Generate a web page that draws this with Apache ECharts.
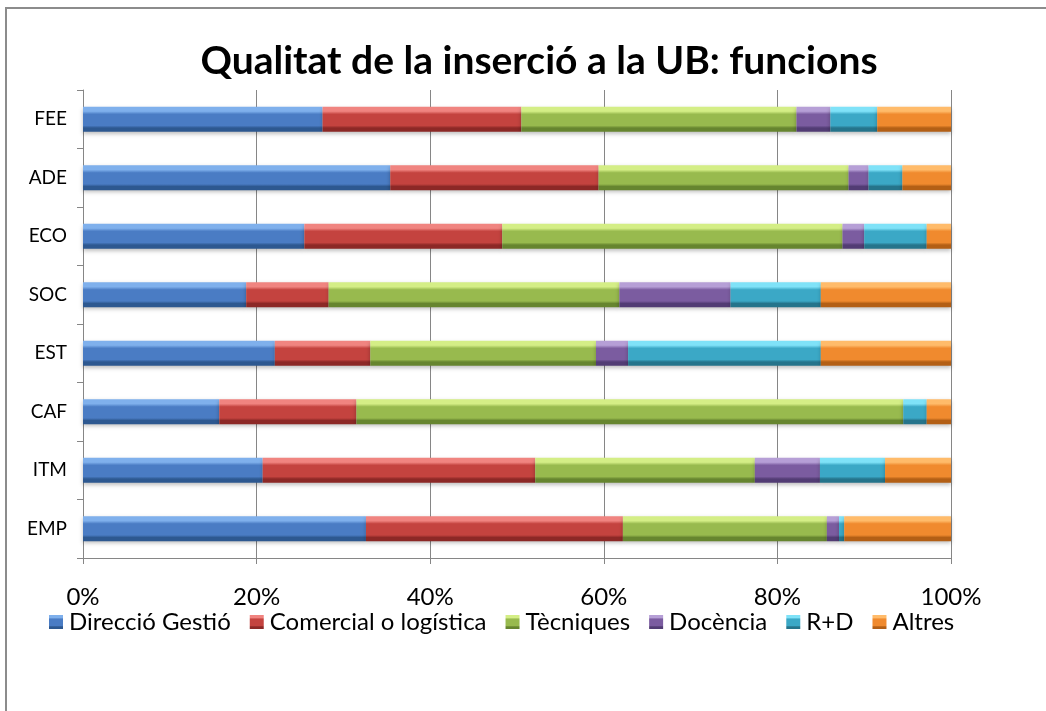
<!DOCTYPE html>
<html>
<head>
<meta charset="utf-8">
<script src="https://cdn.jsdelivr.net/npm/echarts@6/dist/echarts.min.js"></script>
<style>
  body { margin: 0; background: #fff; }
  #chart { width: 1046px; height: 711px; }
  #frame { position: absolute; left: 5px; top: 7px; width: 1100px; height: 800px;
           border-left: 2px solid #8c8c8c; border-top: 2px solid #8c8c8c; pointer-events: none; }
</style>
</head>
<body>
<div id="chart"></div>
<div id="frame"></div>
<script>
var categories = ['EMP', 'ITM', 'CAF', 'EST', 'SOC', 'ECO', 'ADE', 'FEE'];
var seriesNames = ['Direcció Gestió', 'Comercial o logística', 'Tècniques', 'Docència', 'R+D', 'Altres'];

var direccio  = [32.6, 20.7, 15.7, 22.1, 18.8, 25.5, 35.4, 27.6];
var comercial = [29.6, 31.4, 15.8, 11.0,  9.5, 22.8, 24.0, 22.9];
var tecniques = [23.5, 25.3, 63.0, 26.0, 33.5, 39.2, 28.8, 31.7];
var docencia  = [ 1.4,  7.5,  0.0,  3.7, 12.8,  2.5,  2.3,  3.9];
var recerca   = [ 0.6,  7.5,  2.7, 22.2, 10.4,  7.2,  3.9,  5.4];
var altres    = [12.3,  7.6,  2.8, 15.0, 15.0,  2.8,  5.6,  8.5];

var xTicks = [0, 20, 40, 60, 80, 100];

// light top, base, dark bottom
var palettes = [
    ['#7fb0ec', '#4a7cc4', '#2d5890'],
    ['#f08480', '#c4433f', '#8c2826'],
    ['#d4ee86', '#98ba4e', '#66852f'],
    ['#b69fd6', '#7b5ca0', '#523c74'],
    ['#7fe2f8', '#3ba8c6', '#25748b'],
    ['#ffbb6a', '#f08a2e', '#b35f15']
];

function bevel(p) {
    return new echarts.graphic.LinearGradient(0, 0, 0, 1, [
        { offset: 0, color: p[0] },
        { offset: 0.18, color: p[0] },
        { offset: 0.3, color: p[1] },
        { offset: 0.75, color: p[1] },
        { offset: 0.85, color: p[2] },
        { offset: 1, color: p[2] }
    ]);
}

var values = [direccio, comercial, tecniques, docencia, recerca, altres];
var series = values.map(function (v, i) {
    return {
        name: seriesNames[i],
        type: 'bar',
        stack: 'total',
        barWidth: 25,
        data: v,
        itemStyle: {
            color: bevel(palettes[i]),
            shadowColor: 'rgba(0,0,0,0.25)',
            shadowBlur: 4,
            shadowOffsetY: 2
        }
    };
});

var myChart = echarts.init(document.getElementById('chart'));
var option = {
    animation: false,
    color: palettes.map(function (p) { return p[1]; }),
    title: {
        text: 'Qualitat de la inserció a la UB: funcions',
        left: 534,
        top: 37,
        textAlign: 'center',
        textStyle: {
            fontFamily: 'Lato',
            fontWeight: 'bold',
            fontSize: 39,
            color: '#000'
        }
    },
    legend: {
        data: seriesNames,
        left: 44,
        top: 605,
        itemWidth: 14,
        itemHeight: 14,
        itemGap: 19,
        icon: 'rect',
        textStyle: {
            fontFamily: 'Lato',
            fontSize: 24,
            color: '#000',
            padding: [0, 0, 0, 1]
        }
    },
    grid: {
        left: 83,
        right: 95,
        top: 90,
        bottom: 153
    },
    xAxis: {
        type: 'value',
        min: 0,
        max: 100,
        interval: 20,
        axisLine: { show: true, lineStyle: { color: '#868686' } },
        axisTick: { show: true, length: 6, lineStyle: { color: '#868686' } },
        splitLine: { lineStyle: { color: '#868686' } },
        axisLabel: {
            formatter: function (v) { return xTicks.indexOf(v) >= 0 ? v + '%' : ''; },
            fontFamily: 'Lato',
            fontSize: 24,
            color: '#000',
            margin: 27
        }
    },
    yAxis: {
        type: 'category',
        data: categories,
        axisLine: { lineStyle: { color: '#868686' } },
        axisTick: { show: true, length: 6, lineStyle: { color: '#868686' } },
        axisLabel: {
            fontFamily: 'Lato',
            fontSize: 19,
            color: '#000',
            margin: 16
        }
    },
    series: series
};
myChart.setOption(option);
</script>
</body>
</html>
